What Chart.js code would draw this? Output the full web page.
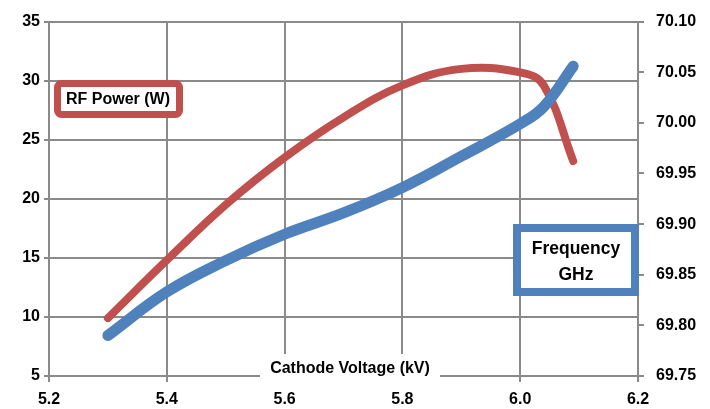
<!DOCTYPE html>
<html>
<head>
<meta charset="utf-8">
<script src="https://cdn.jsdelivr.net/npm/chart.js@4"></script>
<style>
  html, body { margin: 0; padding: 0; background: #fff; }
  #wrap { width: 710px; height: 409px; position: relative; }
</style>
</head>
<body>
<div id="wrap"><canvas id="chart"></canvas></div>
<script>
const voltage = [5.30, 5.40, 5.50, 5.60, 5.70, 5.80, 5.90, 6.00, 6.04, 6.09];
const rfPower = [9.9, 14.8, 19.5, 23.5, 26.9, 29.6, 31.0, 30.7, 29.6, 23.2];
const frequency = [69.790, 69.833, 69.864, 69.890, 69.911, 69.936, 69.967, 69.999, 70.016, 70.056];

const xTicks = [5.2, 5.4, 5.6, 5.8, 6.0, 6.2];
const powerTicks = [5, 35];
const freqTicks = [69.75, 70.10];

const gridGrey = '#8a8a8a';
const fontFamily = '"Liberation Sans"';
const font = { family: fontFamily, size: 16, weight: 'bold' };

function points(ys) {
    return voltage.map(function (v, i) { return { x: v, y: ys[i] }; });
}

const labelsPlugin = {
    id: 'boxes',
    afterDatasetsDraw: function (chart) {
        const ctx = chart.ctx;
        ctx.save();

        // x axis title sits inside the plot, on white
        ctx.fillStyle = '#fff';
        ctx.fillRect(260, 354, 180, 32);
        ctx.fillStyle = '#000';
        ctx.font = 'bold 16px ' + fontFamily;
        ctx.textAlign = 'center';
        ctx.textBaseline = 'middle';
        ctx.fillText('Cathode Voltage (kV)', 350, 369);

        // RF power box
        ctx.lineWidth = 7;
        ctx.strokeStyle = '#C0504D';
        ctx.fillStyle = '#fff';
        ctx.beginPath();
        ctx.roundRect(57.5, 83.5, 122, 31, 4);
        ctx.fill();
        ctx.stroke();
        ctx.fillStyle = '#000';
        ctx.font = 'bold 16px ' + fontFamily;
        ctx.fillText('RF Power (W)', 118, 100);

        // frequency box
        ctx.lineWidth = 8;
        ctx.strokeStyle = '#4F81BD';
        ctx.fillStyle = '#fff';
        ctx.fillRect(517, 228, 118, 64);
        ctx.strokeRect(517, 228, 118, 64);
        ctx.fillStyle = '#000';
        ctx.font = 'bold 17.5px ' + fontFamily;
        ctx.fillText('Frequency', 576, 249);
        ctx.fillText('GHz', 576, 275);

        ctx.restore();
    }
};

new Chart(document.getElementById('chart'), {
    type: 'line',
    data: {
        datasets: [{
            label: 'Frequency GHz',
            data: points(frequency),
            yAxisID: 'y1',
            borderColor: '#4F81BD',
            borderWidth: 11,
            borderCapStyle: 'round',
            tension: 0.4,
            pointRadius: 0
        }, {
            label: 'RF Power (W)',
            data: points(rfPower),
            yAxisID: 'y',
            borderColor: '#C0504D',
            borderWidth: 8,
            borderCapStyle: 'round',
            tension: 0.4,
            pointRadius: 0
        }]
    },
    options: {
        responsive: true,
        maintainAspectRatio: false,
        animation: false,
        events: [],
        layout: { padding: { top: 19, left: 0, right: 0, bottom: 0 } },
        plugins: {
            legend: { display: false },
            tooltip: { enabled: false }
        },
        scales: {
            x: {
                type: 'linear',
                min: xTicks[0],
                max: xTicks[xTicks.length - 1],
                afterBuildTicks: function (axis) {
                    axis.ticks = xTicks.map(function (v) { return { value: v }; });
                },
                afterFit: function (axis) { axis.height = 33; },
                ticks: {
                    color: '#000',
                    font: font,
                    padding: 8,
                    maxRotation: 0,
                    callback: function (v) { return v.toFixed(1); }
                },
                grid: { color: gridGrey, lineWidth: 2, tickLength: 6 },
                border: { color: gridGrey, width: 2 }
            },
            y: {
                position: 'left',
                min: powerTicks[0],
                max: powerTicks[1],
                ticks: {
                    stepSize: 5,
                    color: '#000',
                    font: font,
                    padding: 4
                },
                afterFit: function (axis) { axis.width = 49; },
                grid: { color: gridGrey, lineWidth: 2, tickLength: 5 },
                border: { color: gridGrey, width: 2 }
            },
            y1: {
                position: 'right',
                min: freqTicks[0],
                max: freqTicks[1],
                ticks: {
                    stepSize: 0.05,
                    color: '#000',
                    font: font,
                    padding: 12,
                    callback: function (v) { return v.toFixed(2); }
                },
                afterFit: function (axis) { axis.width = 72; },
                grid: { drawOnChartArea: false, color: gridGrey, lineWidth: 2, tickLength: 6 },
                border: { color: gridGrey, width: 2 }
            }
        }
    },
    plugins: [labelsPlugin]
});
</script>
</body>
</html>
